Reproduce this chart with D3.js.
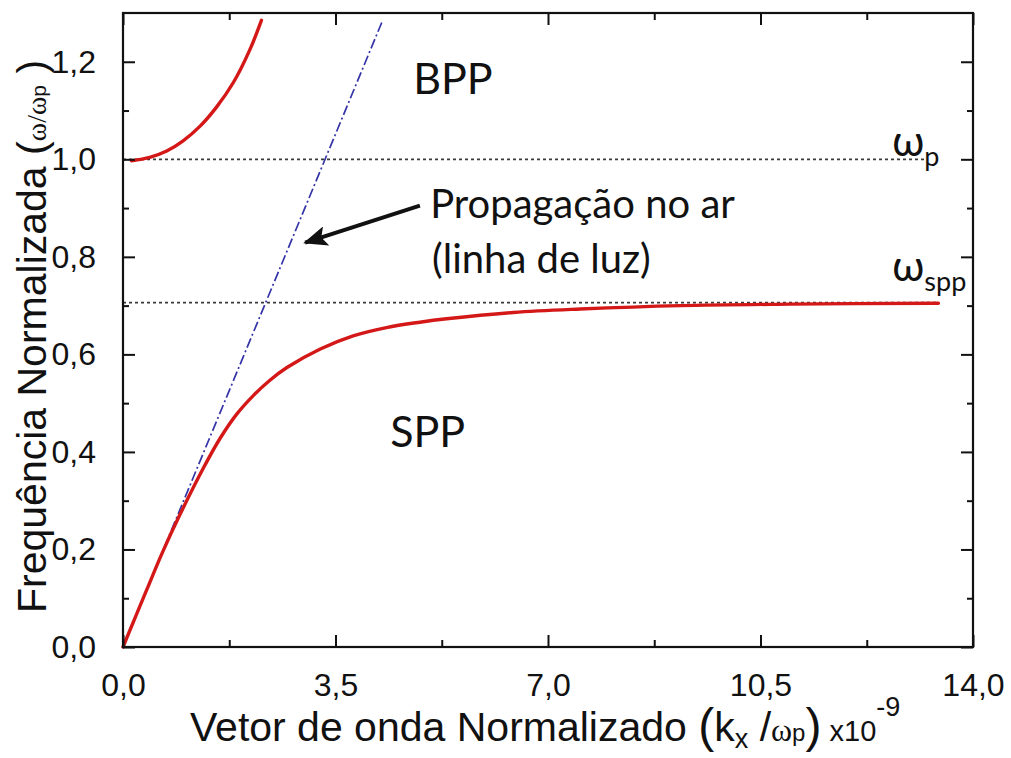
<!DOCTYPE html>
<html>
<head>
<meta charset="utf-8">
<script src="https://cdn.jsdelivr.net/npm/d3@7"></script>
<style>
  body { margin: 0; background: #fff; }
  svg { display: block; }
</style>
</head>
<body>
<svg id="chart" width="1011" height="758"></svg>
<script>
// Axis ticks
const xTicks = [0, 3.5, 7, 10.5, 14];
const xMinorTicks = [1.75, 5.25, 8.75, 12.25];
const yTicks = [0, 0.2, 0.4, 0.6, 0.8, 1.0, 1.2];
const yMinorTicks = [0.1, 0.3, 0.5, 0.7, 0.9, 1.1];

// Dispersion branches: [k_x / omega_p (x10^-9), omega / omega_p]
const sppBranch = [
  [0, 0], [0.39, 0.117], [0.65, 0.194], [0.94, 0.272], [1.32, 0.366],
  [1.60, 0.428], [1.87, 0.477], [2.15, 0.516], [2.42, 0.547], [2.70, 0.573],
  [3.25, 0.611], [3.79, 0.638], [4.34, 0.655], [4.89, 0.666], [5.33, 0.673],
  [6.43, 0.686], [7.53, 0.693], [9.18, 0.700], [11.0, 0.703], [13.43, 0.705]
];
const bppBranch = [
  [0.14, 0.997], [0.44, 1.004], [0.72, 1.017], [0.99, 1.038], [1.27, 1.068],
  [1.54, 1.107], [1.82, 1.158], [2.09, 1.225], [2.28, 1.285]
];
// Light line in air
const lightLine = [[0, 0], [4.27, 1.283]];
// Reference levels
const plasmaLevel = [[0, 1.0], [13.2, 1.0]];
const sppLevel = [[0, 0.706], [13.43, 0.706]];

const plot = { left: 123, right: 973, top: 13, bottom: 647 };

const svg = d3.select("#chart");
const x = d3.scaleLinear().domain([0, 14]).range([plot.left, plot.right]);
const y = d3.scaleLinear().domain([0, 1.3]).range([plot.bottom, plot.top]);

const ptBR = d3.formatLocale({ decimal: ",", thousands: ".", grouping: [3], currency: ["", ""] });
const fmt = ptBR.format(".1f");

const tickFont = "'Liberation Sans', Arial, sans-serif";

// Horizontal reference levels
const straight = d3.line().x(d => x(d[0])).y(d => y(d[1]));
[plasmaLevel, sppLevel].forEach(level => {
  svg.append("path").datum(level).attr("d", straight)
    .attr("fill", "none").attr("stroke", "#3a3a3a").attr("stroke-width", 1.7)
    .attr("stroke-dasharray", "3,3");
});

// Light line
svg.append("path").datum(lightLine).attr("d", straight)
  .attr("fill", "none").attr("stroke", "#3434a8").attr("stroke-width", 1.7)
  .attr("stroke-dasharray", "10,3,2,3");

// Plasmon branches
const smooth = d3.line().x(d => x(d[0])).y(d => y(d[1])).curve(d3.curveCatmullRom.alpha(0.5));
[sppBranch, bppBranch].forEach(branch => {
  svg.append("path").datum(branch).attr("d", smooth)
    .attr("fill", "none").attr("stroke", "#d41818").attr("stroke-width", 3.4)
    .attr("stroke-linecap", "round");
});

// Axes: ticks point inward on all four sides
function styleAxis(g) {
  g.select(".domain").remove();
  g.selectAll(".tick line").attr("stroke", "#111").attr("stroke-width", 2);
  g.selectAll(".tick text").attr("font-family", tickFont).attr("font-size", 32).attr("fill", "#111");
}
svg.append("g").attr("transform", `translate(0,${plot.bottom})`)
  .call(d3.axisBottom(x).tickValues(xTicks).tickFormat(fmt).tickSizeInner(-12).tickPadding(26))
  .call(styleAxis);
svg.append("g").attr("transform", `translate(0,${plot.bottom})`)
  .call(d3.axisBottom(x).tickValues(xMinorTicks).tickFormat("").tickSizeInner(-7))
  .call(styleAxis);
svg.append("g").attr("transform", `translate(0,${plot.top})`)
  .call(d3.axisTop(x).tickValues(xTicks).tickFormat("").tickSizeInner(-12))
  .call(styleAxis);
svg.append("g").attr("transform", `translate(0,${plot.top})`)
  .call(d3.axisTop(x).tickValues(xMinorTicks).tickFormat("").tickSizeInner(-7))
  .call(styleAxis);
svg.append("g").attr("transform", `translate(${plot.left},0)`)
  .call(d3.axisLeft(y).tickValues(yTicks).tickFormat(fmt).tickSizeInner(-12).tickPadding(27))
  .call(styleAxis);
svg.append("g").attr("transform", `translate(${plot.left},0)`)
  .call(d3.axisLeft(y).tickValues(yMinorTicks).tickFormat("").tickSizeInner(-6))
  .call(styleAxis);
svg.append("g").attr("transform", `translate(${plot.right},0)`)
  .call(d3.axisRight(y).tickValues(yTicks).tickFormat("").tickSizeInner(-12))
  .call(styleAxis);
svg.append("g").attr("transform", `translate(${plot.right},0)`)
  .call(d3.axisRight(y).tickValues(yMinorTicks).tickFormat("").tickSizeInner(-6))
  .call(styleAxis);

// Frame
svg.append("rect")
  .attr("x", plot.left).attr("y", plot.top)
  .attr("width", plot.right - plot.left).attr("height", plot.bottom - plot.top)
  .attr("fill", "none").attr("stroke", "#111").attr("stroke-width", 2.2);

// Region and level labels
const noteFont = "Lato, 'Open Sans', 'Noto Sans', sans-serif";
svg.append("text").attr("x", x(4.78)).attr("y", y(1.134))
  .attr("font-family", noteFont).attr("font-size", 43).attr("fill", "#111").text("BPP");
svg.append("text").attr("x", x(4.40)).attr("y", y(0.411))
  .attr("font-family", noteFont).attr("font-size", 43).attr("fill", "#111").text("SPP");

const wp = svg.append("text").attr("x", x(12.67)).attr("y", y(1.006))
  .attr("font-family", noteFont).attr("font-size", 42).attr("fill", "#111");
wp.append("tspan").text("ω");
wp.append("tspan").attr("font-size", 27).attr("dy", 10).text("p");

const wspp = svg.append("text").attr("x", x(12.67)).attr("y", y(0.751))
  .attr("font-family", noteFont).attr("font-size", 42).attr("fill", "#111");
wspp.append("tspan").text("ω");
wspp.append("tspan").attr("font-size", 27).attr("dy", 10).text("spp");

// Annotation for the light line
svg.append("text").attr("x", x(5.06)).attr("y", y(0.880))
  .attr("font-family", noteFont).attr("font-size", 40).attr("fill", "#111")
  .text("Propagação no ar");
svg.append("text").attr("x", x(5.09)).attr("y", y(0.766))
  .attr("font-family", noteFont).attr("font-size", 40).attr("fill", "#111")
  .text("(linha de luz)");

svg.append("defs").append("marker")
  .attr("id", "head").attr("viewBox", "0 0 24 20")
  .attr("refX", 22).attr("refY", 10)
  .attr("markerWidth", 24).attr("markerHeight", 20)
  .attr("markerUnits", "userSpaceOnUse").attr("orient", "auto")
  .append("path").attr("d", "M0,0 L24,10 L0,20 L5,10 Z").attr("fill", "#111");
svg.append("line")
  .attr("x1", x(4.89)).attr("y1", y(0.905))
  .attr("x2", x(3.0)).attr("y2", y(0.829))
  .attr("stroke", "#111").attr("stroke-width", 4)
  .attr("marker-end", "url(#head)");

// Axis titles
const titleFont = "'Liberation Sans', Arial, sans-serif";
const symFont = "'Liberation Serif', 'DejaVu Serif', serif";

const xt = svg.append("text").attr("x", 190).attr("y", 741)
  .attr("font-family", titleFont).attr("font-size", 41).attr("fill", "#111");
xt.append("tspan").text("Vetor de onda Normalizado ");
xt.append("tspan").attr("font-size", 48).attr("dy", 1).text("(");
xt.append("tspan").attr("dy", -1).text("k");
xt.append("tspan").attr("font-size", 27).attr("dy", 7).text("x");
xt.append("tspan").attr("dy", -7).text(" /");
xt.append("tspan").attr("font-family", symFont).attr("font-size", 32).text("ω");
xt.append("tspan").attr("font-size", 24).text("p");
xt.append("tspan").attr("font-size", 48).attr("dy", 1).text(")");
xt.append("tspan").attr("font-size", 29).attr("dy", -1).text(" x10");
xt.append("tspan").attr("font-size", 27).attr("dy", -25).text("-9");

const yt = svg.append("text").attr("transform", "translate(46,613) rotate(-90)")
  .attr("font-family", titleFont).attr("font-size", 41).attr("fill", "#111");
yt.append("tspan").text("Frequência Normalizada (");
yt.append("tspan").attr("font-family", symFont).attr("font-size", 28).text("ω/ω");
yt.append("tspan").attr("font-size", 21).text("p");
yt.append("tspan").text(" )");
</script>
</body>
</html>
